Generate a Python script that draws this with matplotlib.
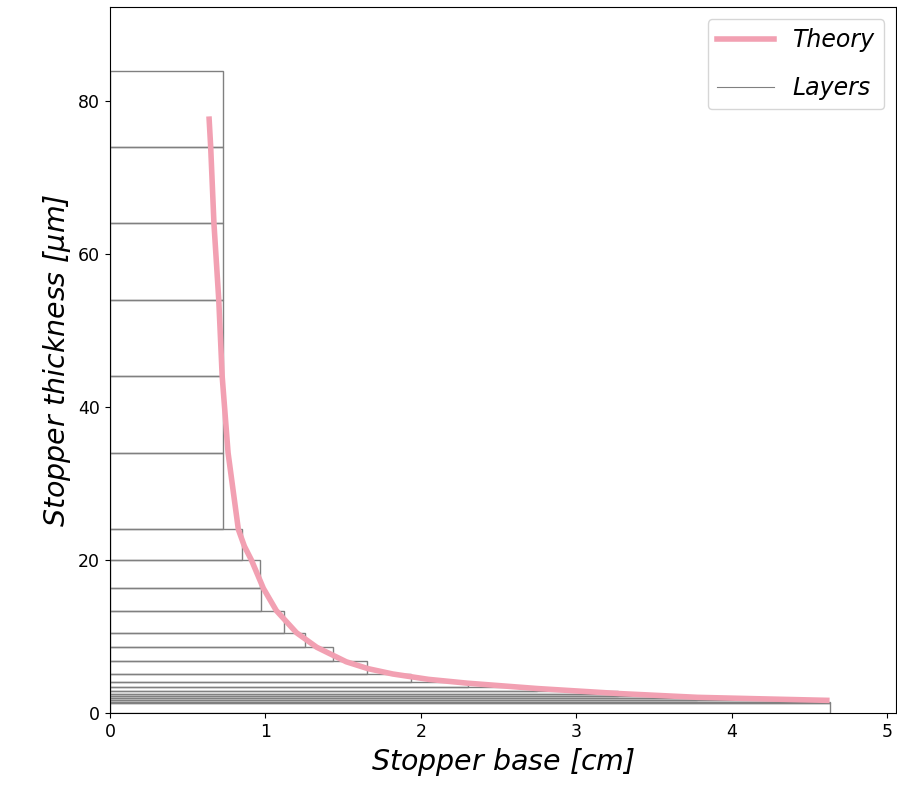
import numpy as np
import matplotlib
matplotlib.use('Agg')
import matplotlib.pyplot as plt
from matplotlib.patches import Rectangle
from matplotlib.lines import Line2D

# layer boundaries (um), top to bottom, and the base width of each layer (cm)
layer_edges = [84, 74, 64, 54, 44, 34, 24, 20, 16.3, 13.4, 10.5, 8.6, 6.8,
               5.1, 4.0, 3.4, 2.9, 2.5, 2.2, 2.0, 1.75, 1.5, 1.25, 0]
layer_width = [0.727, 0.727, 0.727, 0.727, 0.727, 0.727, 0.851, 0.963, 0.97,
               1.12, 1.253, 1.433, 1.655, 1.937, 2.306, 2.75, 3.27, 3.27,
               3.78, 3.78, 4.42, 4.63, 4.63]

# theory curve
theory_x = [0.637, 0.648, 0.669, 0.70, 0.722, 0.76, 0.826, 0.865, 0.91, 0.987,
            1.07, 1.2, 1.33, 1.52, 1.66, 1.82, 2.05, 2.3, 2.75, 3.27, 3.78,
            4.2, 4.63]
theory_y = [78, 74, 64, 54, 44, 34, 24, 21.8, 20, 16.3,
            13.4, 10.5, 8.6, 6.7, 5.8, 5.1, 4.4, 3.9, 3.2, 2.55, 2.05,
            1.85, 1.65]

pink = '#f2a0b2'
grey = '#808080'

fig = plt.figure(figsize=(8.97, 7.98), dpi=100)
ax = fig.add_axes([0.1226, 0.1065, 0.8764, 0.8847])

for i, w in enumerate(layer_width):
    top = layer_edges[i]
    bot = layer_edges[i+1]
    ax.add_patch(Rectangle((0, bot), w, top-bot, fill=False,
                           edgecolor=grey, lw=1.0))

ax.plot(theory_x, theory_y, color=pink, lw=4, solid_capstyle='butt')

ax.set_xlim(0, 5.058)
ax.set_ylim(0, 92.3)
ax.set_xticks([0, 1, 2, 3, 4, 5])
ax.set_yticks([0, 20, 40, 60, 80])
ax.tick_params(labelsize=12.5)
ax.set_xlabel(r'Stopper base [$cm$]', fontsize=20.5, fontstyle='italic')
ax.set_ylabel(r'Stopper thickness [$\mu m$]', fontsize=20.5, fontstyle='italic')

handles = [Line2D([], [], color=pink, lw=4),
           Line2D([], [], color=grey, lw=0.8)]
leg = ax.legend(handles, ['Theory', 'Layers'], loc='upper right',
                prop={'size': 17, 'style': 'italic'}, handlelength=2.4,
                labelspacing=1.0)

fig.savefig('out.png', dpi=100)
